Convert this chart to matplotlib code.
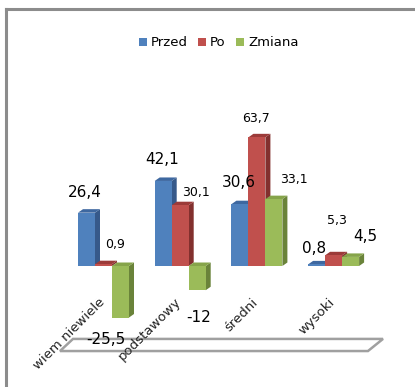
import matplotlib.pyplot as plt
from matplotlib.patches import Polygon, Patch
from matplotlib.lines import Line2D

# dane
kategorie = ["wiem niewiele", "podstawowy", "średni", "wysoki"]
przed = [26.4, 42.1, 30.6, 0.8]
po = [0.9, 30.1, 63.7, 5.3]
zmiana = [-25.5, -12, 33.1, 4.5]
serie = ["Przed", "Po", "Zmiana"]

# kolory: przod, bok, gora
kolory = {"Przed": ("#4f81bd", "#36598a", "#3e68a0"),
          "Po": ("#c0504d", "#82302e", "#9c3b39"),
          "Zmiana": ("#9bbb59", "#6a833a", "#86a44a")}

# przesuniecia etykiet (piksele) i duze/male czcionki
przes = {"Przed": [(-2, 20), (-1, 21), (-1, 22), (-3, 16)],
         "Po": [(12, 20), (16, 13), (-1, 19), (3, 35)],
         "Zmiana": [(-15, -22), (1, -27), (20, 20), (15, 20)]}
duze = {"Przed": [True] * 4, "Po": [False] * 4,
        "Zmiana": [True, True, False, True]}

W = 17 / 76.7      # szerokosc slupka
DX = 5 / 76.7      # glebokosc w poziomie
DY = 3.5 / 2.02    # glebokosc w pionie


def slupek(ax, xc, v, c):
    x0, x1 = xc - W / 2, xc + W / 2
    y0, y1 = min(0, v), max(0, v)
    przod, bok, gora = c
    ax.add_patch(Polygon([(x1, y0), (x1 + DX, y0 + DY), (x1 + DX, y1 + DY), (x1, y1)],
                         closed=True, fc=bok, ec="none", zorder=2))
    ax.add_patch(Polygon([(x0, y1), (x1, y1), (x1 + DX, y1 + DY), (x0 + DX, y1 + DY)],
                         closed=True, fc=gora, ec="none", zorder=2))
    ax.add_patch(Polygon([(x0, y0), (x1, y0), (x1, y1), (x0, y1)],
                         closed=True, fc=przod, ec="none", zorder=3))


fig = plt.figure(figsize=(4.15, 3.87), dpi=100)
ax = fig.add_axes([0, 0, 1, 1])
ax.set_xlim(-103.5 / 76.7, (415 - 103.5) / 76.7)
ax.set_ylim(-121 / 2.02, 266 / 2.02)
ax.axis("off")

# podloga
podl = Polygon([(-0.567, -42.1), (-0.398, -36.1), (3.644, -36.1), (3.448, -42.1)],
               closed=True, fc="white", ec="#a0a0a0", lw=1.8, zorder=1)
ax.add_patch(podl)

wartosci = {"Przed": przed, "Po": po, "Zmiana": zmiana}
for i in range(len(kategorie)):
    for j, s in enumerate(serie):
        xc = i + (j - 1) * W
        v = wartosci[s][i]
        slupek(ax, xc, v, kolory[s])
        dx, dy = przes[s][i]
        y = max(v, 0) if v >= 0 else v
        txt = ("%g" % v).replace(".", ",")
        ax.annotate(txt, (xc, y), xytext=(dx, dy), textcoords="offset pixels",
                    ha="center", va="center",
                    fontsize=11 if duze[s][i] else 9, color="black", zorder=5)

for i, k in enumerate(kategorie):
    ax.annotate(k, (i, 0), xytext=(-1, -34), textcoords="offset pixels",
                rotation=45, rotation_mode="anchor", ha="right", va="center",
                fontsize=9.5, color="#222222", zorder=5)

uchwyty = [Patch(fc=kolory[s][0], ec="none") for s in serie]
fig.legend(uchwyty, serie, loc="center", bbox_to_anchor=(0.527, 1 - 43 / 387),
           ncol=3, frameon=False, fontsize=9.5, handlelength=0.6, handleheight=0.6,
           handletextpad=0.3, columnspacing=0.8)

# ramka wykresu
fig.add_artist(Line2D([6 / 415, 6 / 415], [0, 1 - 9 / 387], transform=fig.transFigure,
                      color="#8c8c8c", lw=2.2))
fig.add_artist(Line2D([6 / 415, 1], [1 - 9 / 387, 1 - 9 / 387], transform=fig.transFigure,
                      color="#8c8c8c", lw=2.2))

fig.savefig("out.png", dpi=100, facecolor="white")
